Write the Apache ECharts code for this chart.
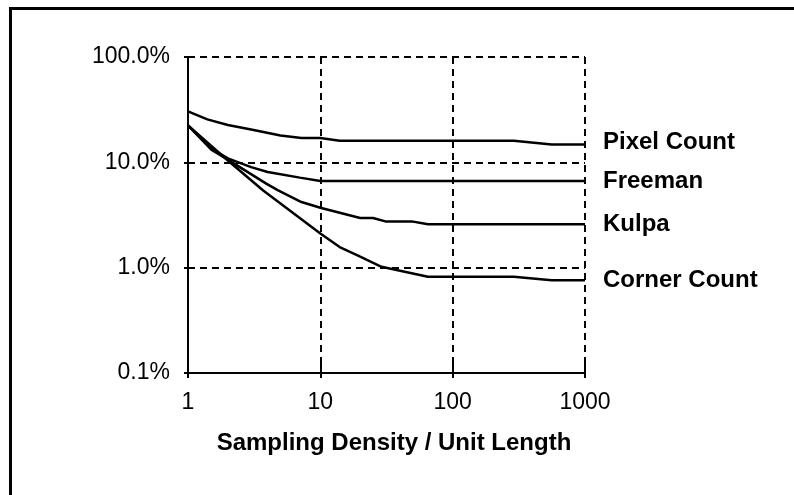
<!DOCTYPE html>
<html>
<head>
<meta charset="utf-8">
<script src="https://cdn.jsdelivr.net/npm/echarts@6/dist/echarts.min.js"></script>
<style>
html,body{margin:0;padding:0;background:#fff;}
#chart{width:794px;height:495px;}
</style>
</head>
<body>
<div id="chart"></div>
<script>
// Sampling density (x) and error percentage (y)
const pixelX = [1, 1.4, 2, 3, 5, 7.2, 10, 14, 290, 560, 1000];
const pixelY = [30.5, 25.6, 22.6, 20.5, 18.0, 17.0, 17.0, 16.0, 16.0, 14.8, 14.8];

const freemanX = [1, 1.5, 2, 3, 4, 7, 10, 1000];
const freemanY = [22.4, 13.5, 10.9, 9.0, 8.1, 7.16, 6.65, 6.65];

const kulpaX = [1, 1.5, 2, 3.9, 4.8, 7.2, 10, 20, 25, 31, 49, 65, 1000];
const kulpaY = [22.4, 13.2, 10.6, 6.28, 5.42, 4.2, 3.71, 2.96, 2.96, 2.75, 2.75, 2.58, 2.58];

const cornerX = [1, 2, 3.7, 10, 14, 20, 29, 65, 290, 560, 1000];
const cornerY = [22.4, 10.4, 5.4, 2.11, 1.57, 1.27, 1.02, 0.82, 0.82, 0.76, 0.76];

const seriesNames = ['Pixel Count', 'Freeman', 'Kulpa', 'Corner Count'];
const xTickValues = [1, 10, 100, 1000];
const yTickValues = [0.1, 1, 10, 100];
const xAxisTitle = 'Sampling Density / Unit Length';

const FONT = "'Liberation Sans', Arial, sans-serif";

function pairs(xs, ys) { return xs.map((x, i) => [x, ys[i]]); }

const lineSets = [
  [pixelX, pixelY, -2],
  [freemanX, freemanY, 0],
  [kulpaX, kulpaY, 0],
  [cornerX, cornerY, 0]
];

const chart = echarts.init(document.getElementById('chart'), null, {renderer: 'canvas'});

const dashed = {show: true, lineStyle: {color: '#000', width: 2, type: [7, 5]}};

chart.setOption({
  animation: false,
  backgroundColor: '#fff',
  graphic: [{
    type: 'rect',
    shape: {x: 10.5, y: 8.5, width: 900, height: 600},
    style: {fill: 'none', stroke: '#000', lineWidth: 3},
    silent: true
  }],
  grid: {left: 188, right: 209, top: 57, bottom: 122},
  xAxis: [{
    type: 'log', logBase: 10, min: 1, max: 1000,
    axisLine: {show: true, lineStyle: {color: '#000', width: 2}},
    axisTick: {show: true, inside: false, length: 5, lineStyle: {color: '#000', width: 2}},
    axisLabel: {
      margin: 18, color: '#000', fontSize: 23, fontFamily: FONT,
      formatter: v => String(xTickValues.find(t => Math.abs(t - v) / t < 1e-6) ?? Math.round(v))
    },
    splitLine: dashed,
    name: xAxisTitle, nameLocation: 'middle', nameGap: 58,
    nameTextStyle: {color: '#000', fontSize: 24, fontWeight: 'bold', fontFamily: FONT, padding: [0, 0, 0, 15]}
  }, {
    type: 'log', logBase: 10, min: 1, max: 1000, position: 'bottom',
    axisLine: {show: false},
    axisTick: {show: true, inside: true, length: 11, lineStyle: {color: '#000', width: 2}},
    axisLabel: {show: false}, splitLine: {show: false}
  }],
  yAxis: [{
    type: 'log', logBase: 10, min: 0.1, max: 100,
    axisLine: {show: true, lineStyle: {color: '#000', width: 2}},
    axisTick: {show: true, inside: false, length: 4, lineStyle: {color: '#000', width: 2}},
    axisLabel: {
      margin: 18, color: '#000', fontSize: 23, fontFamily: FONT,
      formatter: v => {
        const t = yTickValues.find(t => Math.abs(t - v) / t < 1e-6);
        return (t ?? v).toFixed(1) + '%';
      }
    },
    splitLine: dashed
  }, {
    type: 'log', logBase: 10, min: 0.1, max: 100, position: 'left',
    axisLine: {show: false},
    axisTick: {show: true, inside: true, length: 4, lineStyle: {color: '#000', width: 2}},
    axisLabel: {show: false}, splitLine: {show: false}
  }],
  series: lineSets.map((s, i) => ({
    name: seriesNames[i],
    type: 'line',
    xAxisIndex: 0, yAxisIndex: 0,
    data: pairs(s[0], s[1]),
    showSymbol: false, symbol: 'none',
    lineStyle: {color: '#000', width: 2.5},
    itemStyle: {color: '#000'},
    endLabel: {
      show: true, formatter: '{a}', distance: 18, offset: [0, s[2]],
      color: '#000', fontSize: 24, fontWeight: 'bold', fontFamily: FONT
    },
    emphasis: {disabled: true}
  }))
});
</script>
</body>
</html>
